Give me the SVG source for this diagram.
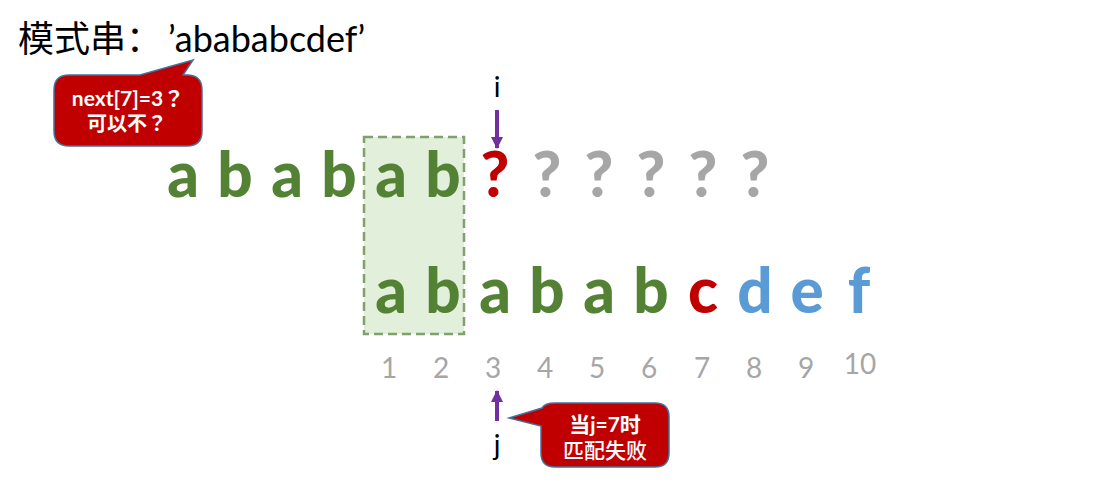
<svg xmlns="http://www.w3.org/2000/svg" width="1120" height="491" viewBox="0 0 1120 491">
<defs>
<marker id="ah" viewBox="0 0 12 12" refX="11" refY="6" markerWidth="12" markerHeight="12" markerUnits="userSpaceOnUse" orient="auto">
<path d="M0,0 L12,6 L0,12 Z" fill="#7030A0"/>
</marker>
</defs>
<style>
.big{font-family:Lato,"Open Sans",sans-serif;font-weight:900;font-size:62px;text-anchor:middle}
.g{fill:#548235}.r{fill:#C00000}.q{fill:#A6A6A6}.bl{fill:#5B9BD5}
.num{font-family:Lato,"Liberation Sans",sans-serif;font-size:28px;fill:#A6A6A6;text-anchor:middle}
.lbl{font-family:Lato,"Liberation Sans",sans-serif;font-size:28px;fill:#000;text-anchor:middle}
.bub{fill:#C00000;stroke:#41719C;stroke-width:1.5}
.bt{font-family:Lato,"Noto Sans CJK JP",sans-serif;font-weight:bold;fill:#fff;text-anchor:middle}
.bs{font-family:Lato,"Noto Sans CJK SC",sans-serif;fill:#fff;text-anchor:middle}
.arr{stroke:#7030A0;stroke-width:4;fill:none}
</style>
<rect width="1120" height="491" fill="#fff"/>
<g id="title">
<text x="18" y="52" font-size="36" fill="#000" font-family="Noto Sans CJK SC,sans-serif">模式串：</text>
<text x="168" y="52" font-size="36" fill="#000" font-family="Lato,Liberation Sans,sans-serif">’abababcdef’</text>
</g>
<g id="highlight">
<rect x="364" y="137" width="100" height="197" fill="#E2EFDA" stroke="#80A06C" stroke-width="2.5" stroke-dasharray="9,5"/>
</g>
<g id="text-row">
<text class="big g" x="183" y="197">a</text>
<text class="big g" x="235" y="197">b</text>
<text class="big g" x="287" y="197">a</text>
<text class="big g" x="339" y="197">b</text>
<text class="big g" x="391" y="197">a</text>
<text class="big g" x="443" y="197">b</text>
<text class="big r" x="495" y="197">?</text>
<text class="big q" x="547" y="197">?</text>
<text class="big q" x="599" y="197">?</text>
<text class="big q" x="651" y="197">?</text>
<text class="big q" x="703" y="197">?</text>
<text class="big q" x="755" y="197">?</text>
</g>
<g id="pattern-row">
<text class="big g" x="391" y="313">a</text>
<text class="big g" x="443" y="313">b</text>
<text class="big g" x="495" y="313">a</text>
<text class="big g" x="547" y="313">b</text>
<text class="big g" x="599" y="313">a</text>
<text class="big g" x="651" y="313">b</text>
<text class="big r" x="703" y="313">c</text>
<text class="big bl" x="755" y="313">d</text>
<text class="big bl" x="807" y="313">e</text>
<text class="big bl" x="859" y="313">f</text>
</g>
<g id="indices">
<text class="num" x="389" y="378">1</text>
<text class="num" x="441" y="378">2</text>
<text class="num" x="493" y="378">3</text>
<text class="num" x="545" y="378">4</text>
<text class="num" x="597" y="378">5</text>
<text class="num" x="649" y="378">6</text>
<text class="num" x="702" y="378">7</text>
<text class="num" x="754" y="378">8</text>
<text class="num" x="806" y="378">9</text>
<text class="num" x="860" y="374">10</text>
</g>
<g id="label-i"><text class="lbl" x="497" y="97">i</text></g>
<g id="label-j"><text class="lbl" x="497" y="455">j</text></g>
<g id="connectors">
<line class="arr" x1="497" y1="110" x2="497" y2="148" marker-end="url(#ah)"/>
<line class="arr" x1="497" y1="421" x2="497" y2="391" marker-end="url(#ah)"/>
</g>
<g id="callout-next">
<path class="bub" d="M69,75 L140,75 L193,60 L183,75 L187,75 Q202,75 202,90 L202,131 Q202,146 187,146 L69,146 Q54,146 54,131 L54,90 Q54,75 69,75 Z"/>
<text class="bt" x="128" y="106" font-size="21">next[7]=3？</text>
<text class="bt" x="127" y="131" font-size="20" font-weight="500">可以不？</text>
</g>
<g id="callout-j">
<path class="bub" d="M555,403 L655,403 Q669,403 669,417 L669,453 Q669,467 655,467 L555,467 Q541,467 541,453 L541,426 L509,418 L542,408 Q545,403 555,403 Z"/>
<text class="bs" x="605" y="432" font-size="21" font-weight="bold">当j=7时</text>
<text class="bs" x="605" y="458" font-size="21" font-weight="500">匹配失败</text>
</g>
</svg>
